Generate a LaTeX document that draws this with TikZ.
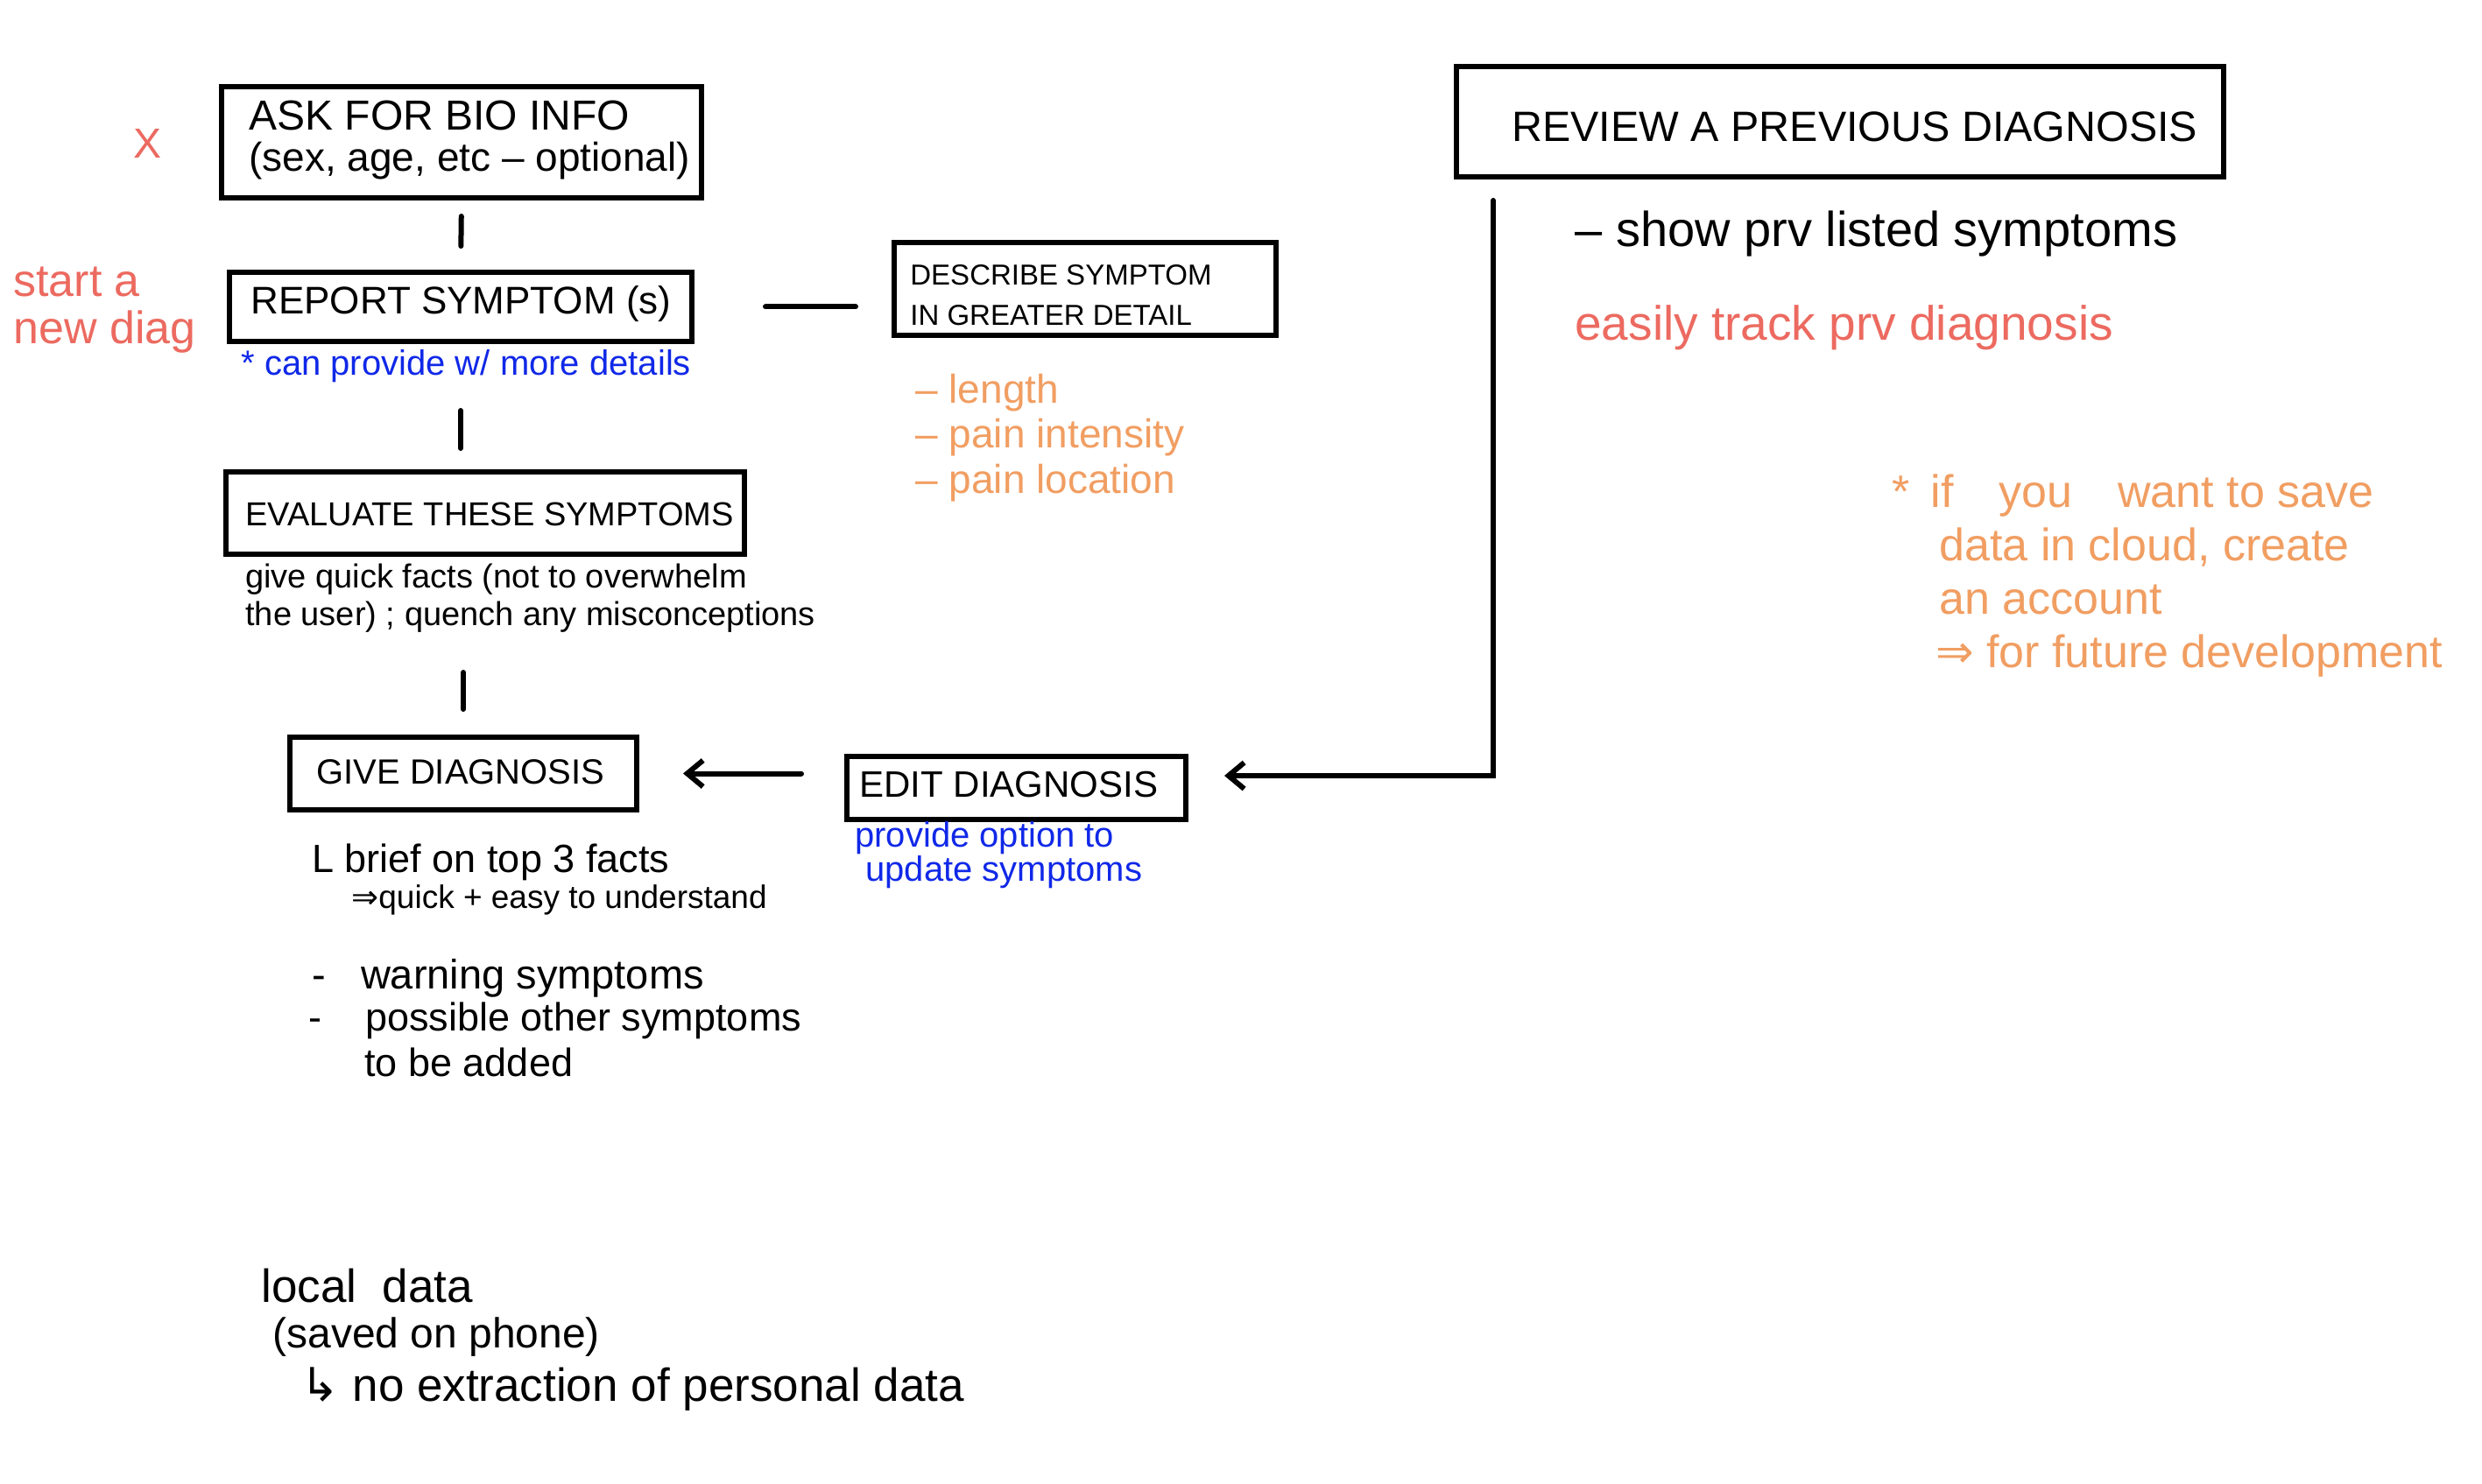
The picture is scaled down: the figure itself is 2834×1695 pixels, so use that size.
\documentclass[tikz,border=0pt]{standalone}
\usepackage{fontspec}
\setmainfont{Liberation Sans}
\newfontfamily\symfont{DejaVu Sans}
\usetikzlibrary{arrows.meta}
\definecolor{hred}{RGB}{236,106,96}
\definecolor{horange}{RGB}{241,158,98}
\definecolor{hblue}{RGB}{16,40,232}
\newcommand{\fsz}[2]{\fontsize{#1}{#2}\selectfont}
\begin{document}
\begin{tikzpicture}[x=0.5pt,y=-0.5pt,
  box/.style={draw, line width=3pt, inner sep=0pt},
  txt/.style={anchor=west, inner sep=0pt, align=left},
  conn/.style={line width=3pt, line cap=round},
  arr/.style={conn, -{Straight Barb[length=9pt,width=15pt]}}]
\fill[white] (0,0) rectangle (2834,1695);
\useasboundingbox (0,0) rectangle (2834,1695);

% boxes
\node[box, minimum width=274pt, minimum height=63.5pt] (ask) at (527,162.5) {};
\node[box, minimum width=264pt, minimum height=39.5pt] (report) at (526,350.5) {};
\node[box, minimum width=218pt, minimum height=53pt] (describe) at (1239,330) {};
\node[box, minimum width=296pt, minimum height=47pt] (eval) at (554,586) {};
\node[box, minimum width=198pt, minimum height=41.5pt] (give) at (529,883.5) {};
\node[box, minimum width=193.5pt, minimum height=36pt] (edit) at (1160.5,900) {};
\node[box, minimum width=438pt, minimum height=63pt] (review) at (2101,139) {};

% box texts
\node[txt, font=\fsz{24}{29}] (askt1) at (284,132) {ASK FOR BIO INFO};
\node[txt, font=\fsz{23}{28}] (askt2) at (284,184) {(sex, age, etc – optional)};
\node[txt, font=\fsz{22}{26}] (reportt) at (286,347) {REPORT SYMPTOM (s)};
\node[txt, font=\fsz{16.5}{23}] (describet) at (1039,337) {DESCRIBE SYMPTOM\\IN GREATER DETAIL};
\node[txt, font=\fsz{19}{23}] (evalt) at (280,587) {EVALUATE THESE SYMPTOMS};
\node[txt, font=\fsz{20}{24}] (givet) at (361,882) {GIVE DIAGNOSIS};
\node[txt, font=\fsz{21}{24}] (editt) at (981,896) {EDIT DIAGNOSIS};
\node[txt, font=\fsz{24.2}{30}] (reviewt) at (1726,145) {REVIEW A PREVIOUS DIAGNOSIS};

% side notes
\node[txt, text=hred, font=\fsz{24}{28}] (xmark) at (152,164) {X};
\node[txt, text=hred, font=\fsz{26}{27}] (start) at (15,354) {start a\\new diag};
\node[txt, text=hblue, font=\fsz{20}{24}] (more) at (275,418) {* can provide w/ more details};
\node[txt, text=horange, font=\fsz{23}{25.75}] (detlist) at (1045,500) {– length\\– pain intensity\\– pain location};
\node[txt, font=\fsz{19}{21.5}] (evaln) at (280,683.5) {give quick facts (not to overwhelm\\the user) ; quench any misconceptions};
\node[txt, text=hblue, font=\fsz{20}{17.5}] (editn) at (976,977) {provide option to\\\hspace*{6pt}update symptoms};
\node[txt, font=\fsz{22.5}{26}] (brief) at (356,985) {L brief on top 3 facts};
\node[txt, font=\fsz{18.5}{24}] (quick) at (401,1028) {{\symfont ⇒}quick + easy to understand};
\node[txt, font=\fsz{23.5}{26}] (warn) at (356,1117) {-\hspace{20pt}warning symptoms};
\node[txt, font=\fsz{22.5}{26}] (poss) at (352,1166) {-\hspace{25pt}possible other symptoms};
\node[txt, font=\fsz{22.5}{26}] (added) at (416,1213) {to be added};
\node[txt, font=\fsz{28}{30}] (show) at (1798,267) {– show prv listed symptoms};
\node[txt, text=hred, font=\fsz{27.5}{30}] (track) at (1798,374) {easily track prv diagnosis};
\node[txt, text=horange, font=\fsz{26}{30.5}] (cloud) at (2160,658)
  {*\hspace{12pt}if\hspace{26pt}you\hspace{26pt}want to save\\
   \hspace*{27pt}data in cloud, create\\
   \hspace*{27pt}an account\\
   \hspace*{25pt}{\symfont ⇒} for future development};
\node[txt, font=\fsz{26.5}{30}] (local) at (298,1469) {local\ \ data};
\node[txt, font=\fsz{24}{30}] (saved) at (311,1527) {(saved on phone)};
\node[txt, font=\fsz{26.5}{30}] (noext) at (343,1587) {{\symfont ↳}\ no extraction of personal data};

% connectors
\draw[conn, shorten <=9pt, shorten >=13.5pt] (ask.south) -- (report.north);
\draw[conn, shorten <=38pt, shorten >=12pt] (report.south) -- (report.south |- eval.north);
\draw[conn, shorten <=66pt, shorten >=14.5pt] (give.north |- eval.south) -- (give.north);
\draw[conn, shorten <=40.5pt, shorten >=20.5pt] (report.east) -- (report.east -| describe.west);
\draw[arr, shorten <=24.5pt, shorten >=25pt] (edit.west |- give.east) -- (give.east);
\draw[arr] ([xshift=22.5pt, yshift=-12pt]review.south west) |- ([xshift=20.5pt, yshift=7pt]edit.east);
\end{tikzpicture}
\end{document}
